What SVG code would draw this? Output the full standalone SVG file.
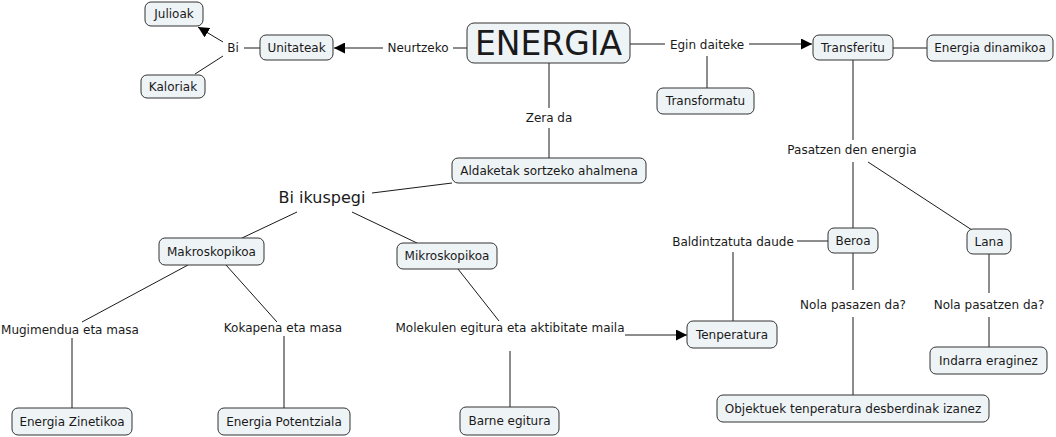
<svg xmlns="http://www.w3.org/2000/svg" width="1056" height="437" viewBox="0 0 1056 437">
<style>
.n rect{fill:#eef3f6;stroke:#333;stroke-width:1;}
text{font-family:"DejaVu Sans",Verdana,sans-serif;font-size:12px;fill:#1a1a1a;text-anchor:middle;}
.big{font-size:33px;}
.mid{font-size:16px;}
#connectors line{stroke:#1a1a1a;stroke-width:1;fill:none;}
</style>
<defs>
<marker id="arr" markerUnits="userSpaceOnUse" markerWidth="11" markerHeight="11" viewBox="0 0 10 10" refX="10" refY="5" orient="auto">
<path d="M0,0 L10,5 L0,10 z" fill="#000"/>
</marker>
</defs>
<rect width="1056" height="437" fill="#fff"/>
<g id="connectors">
<line x1="453" y1="48" x2="467" y2="48"/>
<line x1="383" y1="48" x2="334" y2="48" marker-end="url(#arr)"/>
<line x1="260" y1="48" x2="244" y2="48"/>
<line x1="223" y1="42" x2="198" y2="27" marker-end="url(#arr)"/>
<line x1="223" y1="56" x2="195" y2="74"/>
<line x1="630" y1="44" x2="665" y2="44"/>
<line x1="749" y1="44" x2="812" y2="44" marker-end="url(#arr)"/>
<line x1="707" y1="56" x2="707" y2="88"/>
<line x1="893" y1="48" x2="927" y2="48"/>
<line x1="853" y1="60" x2="853" y2="140"/>
<line x1="853" y1="162" x2="853" y2="228"/>
<line x1="868" y1="162" x2="972" y2="230"/>
<line x1="828" y1="241" x2="797" y2="241"/>
<line x1="733" y1="252" x2="733" y2="321"/>
<line x1="853" y1="253" x2="853" y2="290"/>
<line x1="853" y1="317" x2="853" y2="395"/>
<line x1="989" y1="254" x2="989" y2="293"/>
<line x1="989" y1="317" x2="989" y2="347"/>
<line x1="549" y1="63" x2="549" y2="108"/>
<line x1="549" y1="128" x2="549" y2="158"/>
<line x1="452" y1="183" x2="372" y2="193"/>
<line x1="297" y1="212" x2="242" y2="238"/>
<line x1="352" y1="212" x2="417" y2="243"/>
<line x1="188" y1="265" x2="82" y2="322"/>
<line x1="226" y1="265" x2="277" y2="322"/>
<line x1="72" y1="338" x2="72" y2="408"/>
<line x1="284" y1="336" x2="284" y2="408"/>
<line x1="458" y1="269" x2="499" y2="321"/>
<line x1="625" y1="335" x2="687" y2="335" marker-end="url(#arr)"/>
<line x1="510" y1="351" x2="510" y2="407"/>
</g>
<g id="labels">
<text x="233" y="52">Bi</text>
<text x="418" y="52">Neurtzeko</text>
<text x="707" y="49">Egin daiteke</text>
<text x="549" y="122">Zera da</text>
<text class="mid" x="322" y="203">Bi ikuspegi</text>
<text x="852" y="154">Pasatzen den energia</text>
<text x="733" y="246">Baldintzatuta daude</text>
<text x="853" y="309">Nola pasazen da?</text>
<text x="989" y="309">Nola pasatzen da?</text>
<text x="70" y="334">Mugimendua eta masa</text>
<text x="283" y="332">Kokapena eta masa</text>
<text x="510" y="332">Molekulen egitura eta aktibitate maila</text>
</g>
<g id="n-julioak" class="n"><rect x="145" y="2" width="58" height="24" rx="6"/><text x="174" y="18">Julioak</text></g>
<g id="n-kaloriak" class="n"><rect x="141" y="75" width="64" height="23" rx="6"/><text x="173" y="91">Kaloriak</text></g>
<g id="n-unitateak" class="n"><rect x="260" y="35" width="73" height="25" rx="6"/><text x="296.5" y="52">Unitateak</text></g>
<g id="n-energia" class="n"><rect x="467" y="23" width="163" height="40" rx="7"/><text class="big" x="548.5" y="55">ENERGIA</text></g>
<g id="n-transferitu" class="n"><rect x="813" y="35" width="80" height="25" rx="6"/><text x="853" y="52">Transferitu</text></g>
<g id="n-dinamikoa" class="n"><rect x="927" y="35" width="126" height="26" rx="6"/><text x="990" y="52">Energia dinamikoa</text></g>
<g id="n-transformatu" class="n"><rect x="657" y="88" width="97" height="26" rx="6"/><text x="705.5" y="105">Transformatu</text></g>
<g id="n-aldaketak" class="n"><rect x="452" y="158" width="194" height="25" rx="6"/><text x="549" y="175">Aldaketak sortzeko ahalmena</text></g>
<g id="n-makro" class="n"><rect x="159" y="238" width="105" height="27" rx="6"/><text x="211.5" y="256">Makroskopikoa</text></g>
<g id="n-mikro" class="n"><rect x="397" y="243" width="100" height="26" rx="6"/><text x="447" y="260">Mikroskopikoa</text></g>
<g id="n-beroa" class="n"><rect x="828" y="228" width="50" height="25" rx="6"/><text x="853" y="245">Beroa</text></g>
<g id="n-lana" class="n"><rect x="967" y="229" width="44" height="25" rx="6"/><text x="989" y="246">Lana</text></g>
<g id="n-tenperatura" class="n"><rect x="687" y="321" width="90" height="27" rx="6"/><text x="732" y="339">Tenperatura</text></g>
<g id="n-indarra" class="n"><rect x="930" y="347" width="117" height="27" rx="6"/><text x="988.5" y="365">Indarra eraginez</text></g>
<g id="n-objektuek" class="n"><rect x="717" y="395" width="272" height="27" rx="6"/><text x="853" y="413">Objektuek tenperatura desberdinak izanez</text></g>
<g id="n-zinetikoa" class="n"><rect x="12" y="408" width="120" height="27" rx="6"/><text x="72" y="426">Energia Zinetikoa</text></g>
<g id="n-potentziala" class="n"><rect x="218" y="408" width="132" height="27" rx="6"/><text x="284" y="426">Energia Potentziala</text></g>
<g id="n-barne" class="n"><rect x="460" y="407" width="99" height="28" rx="6"/><text x="509.5" y="425">Barne egitura</text></g>
</svg>
